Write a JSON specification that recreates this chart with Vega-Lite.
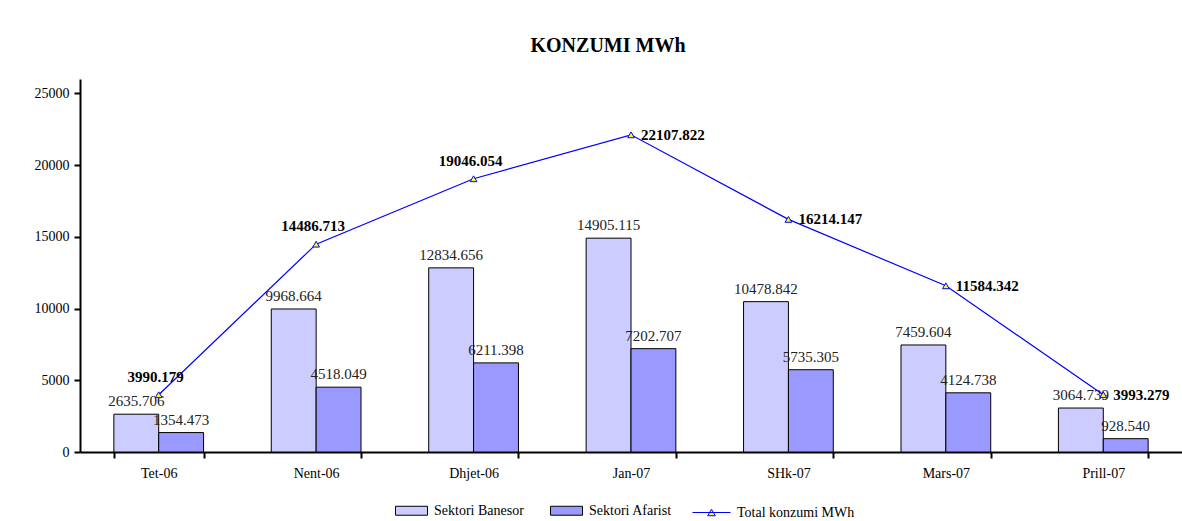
{
  "$schema": "https://vega.github.io/schema/vega-lite/v6.json",
  "autosize": {"type": "fit", "contains": "padding"},
  "width": 1182,
  "height": 521,
  "padding": {"left": 34, "top": 36, "right": 0, "bottom": 41},
  "background": "white",
  "title": {"text": "KONZUMI MWh", "font": "Liberation Serif", "fontSize": 20, "fontWeight": "bold", "color": "black", "anchor": "middle", "frame": "bounds", "offset": 23},
  "datasets": {
    "bars": [
      {"month": "Tet-06", "series": "Sektori Banesor", "value": 2635.706},
      {"month": "Tet-06", "series": "Sektori Afarist", "value": 1354.473},
      {"month": "Nent-06", "series": "Sektori Banesor", "value": 9968.664},
      {"month": "Nent-06", "series": "Sektori Afarist", "value": 4518.049},
      {"month": "Dhjet-06", "series": "Sektori Banesor", "value": 12834.656},
      {"month": "Dhjet-06", "series": "Sektori Afarist", "value": 6211.398},
      {"month": "Jan-07", "series": "Sektori Banesor", "value": 14905.115},
      {"month": "Jan-07", "series": "Sektori Afarist", "value": 7202.707},
      {"month": "SHk-07", "series": "Sektori Banesor", "value": 10478.842},
      {"month": "SHk-07", "series": "Sektori Afarist", "value": 5735.305},
      {"month": "Mars-07", "series": "Sektori Banesor", "value": 7459.604},
      {"month": "Mars-07", "series": "Sektori Afarist", "value": 4124.738},
      {"month": "Prill-07", "series": "Sektori Banesor", "value": 3064.739},
      {"month": "Prill-07", "series": "Sektori Afarist", "value": 928.540}
    ],
    "totals": [
      {"month": "Tet-06", "total": 3990.179},
      {"month": "Nent-06", "total": 14486.713},
      {"month": "Dhjet-06", "total": 19046.054},
      {"month": "Jan-07", "total": 22107.822},
      {"month": "SHk-07", "total": 16214.147},
      {"month": "Mars-07", "total": 11584.342},
      {"month": "Prill-07", "total": 3993.279}
    ]
  },
  "config": {
    "font": "Liberation Serif",
    "view": {"stroke": null},
    "axis": {"grid": false, "domainColor": "black", "domainWidth": 2, "tickColor": "black", "tickWidth": 2, "tickSize": 6, "labelFont": "Liberation Serif", "labelFontSize": 14, "labelColor": "black"},
    "legend": {"labelFont": "Liberation Serif", "labelFontSize": 14, "labelColor": "black", "padding": 0}
  },
  "layer": [
    {
      "data": {"name": "bars"},
      "mark": {"type": "bar", "stroke": "black", "strokeWidth": 1},
      "encoding": {
        "x": {"field": "month", "type": "nominal", "sort": ["Tet-06", "Nent-06", "Dhjet-06", "Jan-07", "SHk-07", "Mars-07", "Prill-07"], "scale": {"paddingInner": 0.43, "paddingOuter": 0.215}, "axis": {"title": null, "labelAngle": 0, "tickBand": "extent", "labelPadding": 8}},
        "xOffset": {"field": "series", "type": "nominal", "scale": {"domain": ["Sektori Banesor", "Sektori Afarist"], "paddingInner": 0, "paddingOuter": 0}},
        "y": {"field": "value", "type": "quantitative", "scale": {"domain": [0, 25000]}, "axis": {"title": null, "values": [0, 5000, 10000, 15000, 20000, 25000], "format": "d", "labelPadding": 5}},
        "fill": {
          "field": "series", "type": "nominal",
          "scale": {"domain": ["Sektori Banesor", "Sektori Afarist"], "range": ["#CCCCFF", "#9999FF"]},
          "legend": {
            "title": null, "orient": "none", "legendX": 315, "legendY": 415, "direction": "horizontal",
            "symbolType": "M-1,-0.28L1,-0.28L1,0.28L-1,0.28Z", "symbolSize": 1024, "symbolStrokeColor": "black", "symbolStrokeWidth": 1, "symbolOpacity": 1, "symbolFillOpacity": 1,
            "labelFont": "Liberation Serif", "labelFontSize": 14, "labelColor": "black",
            "labelOffset": 6, "columnPadding": 24
          }
        }
      }
    },
    {
      "data": {"name": "bars"},
      "mark": {"type": "text", "font": "Liberation Serif", "fontSize": 15, "color": "#222222", "baseline": "bottom", "dy": -5},
      "encoding": {
        "x": {"field": "month", "type": "nominal", "sort": ["Tet-06", "Nent-06", "Dhjet-06", "Jan-07", "SHk-07", "Mars-07", "Prill-07"]},
        "xOffset": {"field": "series", "type": "nominal", "scale": {"domain": ["Sektori Banesor", "Sektori Afarist"]}},
        "y": {"field": "value", "type": "quantitative", "title": null},
        "text": {"field": "value", "type": "quantitative", "format": ".3f"}
      }
    },
    {
      "data": {"name": "totals"},
      "mark": {"type": "line", "strokeWidth": 1.2, "stroke": "#0000FF"},
      "encoding": {
        "x": {"field": "month", "type": "nominal", "sort": ["Tet-06", "Nent-06", "Dhjet-06", "Jan-07", "SHk-07", "Mars-07", "Prill-07"]},
        "y": {"field": "total", "type": "quantitative", "title": null}
      }
    },
    {
      "data": {"name": "totals"},
      "mark": {"type": "point", "shape": "triangle-up", "filled": true, "fill": "#FFFF00", "strokeWidth": 1, "size": 45, "opacity": 1},
      "encoding": {
        "x": {"field": "month", "type": "nominal", "sort": ["Tet-06", "Nent-06", "Dhjet-06", "Jan-07", "SHk-07", "Mars-07", "Prill-07"]},
        "y": {"field": "total", "type": "quantitative", "title": null},
        "stroke": {
          "datum": "Total konzumi MWh",
          "scale": {"domain": ["Total konzumi MWh"], "range": ["#0000FF"]},
          "legend": {
            "title": null, "orient": "none", "legendX": 612, "legendY": 414, "direction": "horizontal",
            "symbolType": "M-1,0L1,0M-0.2,0.17L0,-0.17L0.2,0.17Z", "symbolSize": 1444, "symbolFillColor": "#FFFF00", "symbolStrokeWidth": 1, "symbolOpacity": 1,
            "labelFont": "Liberation Serif", "labelFontSize": 14, "labelColor": "black",
            "labelOffset": 6
          }
        }
      }
    },
    {
      "data": {"name": "totals"},
      "transform": [{"filter": {"field": "month", "oneOf": ["Tet-06", "Nent-06", "Dhjet-06"]}}],
      "mark": {"type": "text", "font": "Liberation Serif", "fontSize": 15, "fontWeight": "bold", "color": "black", "baseline": "bottom", "dy": -10, "dx": -3},
      "encoding": {
        "x": {"field": "month", "type": "nominal", "sort": ["Tet-06", "Nent-06", "Dhjet-06", "Jan-07", "SHk-07", "Mars-07", "Prill-07"]},
        "y": {"field": "total", "type": "quantitative", "title": null},
        "text": {"field": "total", "type": "quantitative", "format": ".3f"}
      }
    },
    {
      "data": {"name": "totals"},
      "transform": [{"filter": {"not": {"field": "month", "oneOf": ["Tet-06", "Nent-06", "Dhjet-06"]}}}],
      "mark": {"type": "text", "font": "Liberation Serif", "fontSize": 15, "fontWeight": "bold", "color": "black", "align": "left", "baseline": "middle", "dx": 10},
      "encoding": {
        "x": {"field": "month", "type": "nominal", "sort": ["Tet-06", "Nent-06", "Dhjet-06", "Jan-07", "SHk-07", "Mars-07", "Prill-07"]},
        "y": {"field": "total", "type": "quantitative", "title": null},
        "text": {"field": "total", "type": "quantitative", "format": ".3f"}
      }
    }
  ]
}
